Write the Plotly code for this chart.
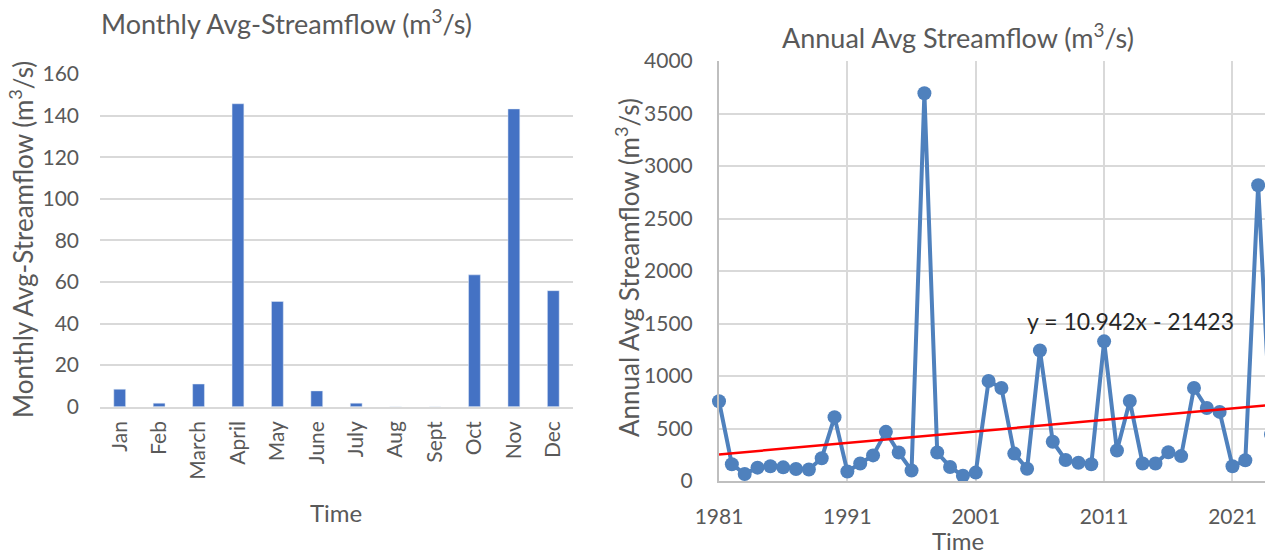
import plotly.graph_objects as go

# browser body margin (8px) shifts the figure; compensate
OX, OY = 8, 8
W, H = 1273 - OX, 551 - OY

months = ["Jan", "Feb", "March", "April", "May", "June", "July", "Aug", "Sept", "Oct", "Nov", "Dec"]
monthly_flow = [8.4, 1.7, 10.9, 145.7, 50.6, 7.6, 1.7, 0, 0, 63.4, 143.2, 55.8]

years = list(range(1981, 2025))
annual_flow = [760, 160, 67, 127, 140, 130, 114, 110, 217, 608,
               90, 167, 244, 468, 271, 100, 3693, 271, 134, 50,
               80, 952, 886, 261, 117, 1243, 374, 200, 174, 160,
               1330, 291, 762, 167, 167, 274, 237, 886, 695, 658,
               140, 197, 2817, 445]

trend_slope = 10.942
trend_intercept = -21423
trend_years = [1981, 2024]
trend_values = [trend_slope * y + trend_intercept for y in trend_years]

FONT = "Lato, Open Sans, sans-serif"
GRAY = "#595959"
GRID = "#D9D9D9"
TICK = 21

def px_x(p):
    return (p - OX) / W

def px_y(p):
    return 1 - (p - OY) / H

fig = go.Figure()

fig.add_trace(go.Bar(x=months, y=monthly_flow, marker_color="#4472C4", width=0.3,
                     xaxis="x", yaxis="y", showlegend=False))

fig.add_trace(go.Scatter(x=years, y=annual_flow, mode="lines+markers",
                         line=dict(color="#4F81BD", width=4),
                         marker=dict(color="#4F81BD", size=14),
                         xaxis="x2", yaxis="y2", showlegend=False, cliponaxis=False))

fig.add_trace(go.Scatter(x=trend_years, y=trend_values, mode="lines",
                         line=dict(color="#FF0000", width=2.5),
                         xaxis="x2", yaxis="y2", showlegend=False))

fig.update_layout(
    width=W, height=H,
    margin=dict(l=0, r=0, t=0, b=0, autoexpand=False),
    paper_bgcolor="white", plot_bgcolor="white",
    font=dict(family=FONT, color=GRAY, size=TICK),
    xaxis=dict(domain=[px_x(100), px_x(573)], range=[-0.5, 11.5], tickangle=-90,
               showgrid=False, showline=True, linecolor=GRID, linewidth=2,
               ticks="", ticklabelstandoff=4, automargin=False,
               tickfont=dict(size=TICK, color=GRAY)),
    yaxis=dict(domain=[px_y(406.7), px_y(74)], range=[0, 160], dtick=20,
               showgrid=True, gridcolor=GRID, gridwidth=2, zeroline=False,
               showline=False, ticks="", ticklabelstandoff=20, automargin=False,
               tickfont=dict(size=TICK, color=GRAY)),
    xaxis2=dict(domain=[px_x(719), px_x(1271)], range=[1981, 2024], tick0=1981, dtick=10,
                showgrid=True, gridcolor=GRID, gridwidth=2, showline=True,
                linecolor="#BFBFBF", linewidth=2, ticks="", ticklabelstandoff=16,
                automargin=False,
                tickfont=dict(size=TICK, color=GRAY), anchor="y2", zeroline=False),
    yaxis2=dict(domain=[px_y(481), px_y(61)], range=[0, 4000], dtick=500,
                showgrid=True, gridcolor=GRID, gridwidth=2, zeroline=False,
                showline=True, linecolor="#BFBFBF", linewidth=2, ticks="",
                automargin=False,
                ticklabelstandoff=20, tickfont=dict(size=TICK, color=GRAY), anchor="x2"),
)

annotations = [
    dict(text="Monthly Avg-Streamflow (m<sup>3</sup>/s)", x=px_x(286), y=px_y(22),
         font=dict(size=27, color=GRAY)),
    dict(text="Monthly Avg-Streamflow (m<sup>3</sup>/s)", x=px_x(21), y=px_y(240),
         textangle=-90, font=dict(size=26, color=GRAY)),
    dict(text="Time", x=px_x(336), y=px_y(512), font=dict(size=24, color=GRAY)),
    dict(text="Annual Avg Streamflow (m<sup>3</sup>/s)", x=px_x(958), y=px_y(36),
         font=dict(size=27, color=GRAY)),
    dict(text="Annual Avg Streamflow (m<sup>3</sup>/s)", x=px_x(627), y=px_y(268),
         textangle=-90, font=dict(size=26, color=GRAY)),
    dict(text="Time", x=px_x(958), y=px_y(540), font=dict(size=24, color=GRAY)),
    dict(text="y = 10.942x - 21423", x=px_x(1130), y=px_y(321),
         font=dict(size=23, color="#262626")),
]
for a in annotations:
    a.update(xref="paper", yref="paper", showarrow=False, xanchor="center", yanchor="middle")
fig.update_layout(annotations=annotations)

fig.write_html("out.html")
